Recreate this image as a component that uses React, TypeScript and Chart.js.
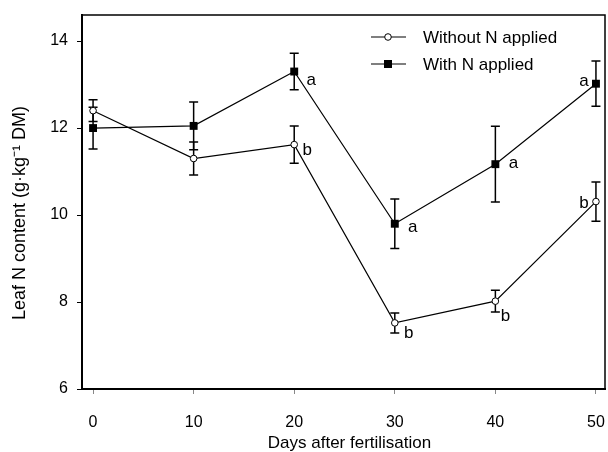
import React, { useEffect, useRef } from "react";
import { Chart, registerables } from "chart.js";

Chart.register(...registerables);

const days = [0, 10, 20, 30, 40, 50];
const withoutN = [12.4, 11.3, 11.62, 7.52, 8.02, 10.31];
const withoutNErr = [0.25, 0.38, 0.43, 0.23, 0.25, 0.45];
const withN = [12.0, 12.05, 13.3, 9.8, 11.17, 13.02];
const withNErr = [0.48, 0.55, 0.42, 0.57, 0.87, 0.52];
const withoutNLetters = ["", "", "b", "b", "b", "b"];
const withNLetters = ["", "", "a", "a", "a", "a"];
const xTicks = [0, 10, 20, 30, 40, 50];
const yTicks = [6, 8, 10, 12, 14];
const seriesNames = ["Without N applied", "With N applied"];
const xTitle = "Days after fertilisation";
const yTitle = "Leaf N content (g·kg⁻¹ DM)";

const FONT = "'Liberation Sans', Arial, sans-serif";

const frame = {
  id: "frame",
  afterDatasetsDraw(chart: any) {
    const { ctx, chartArea: a } = chart;
    ctx.save();
    ctx.strokeStyle = "#000";
    ctx.lineWidth = 1.5;
    ctx.strokeRect(a.left, a.top, a.right - a.left, a.bottom - a.top);
    ctx.restore();
  },
};

const titles = {
  id: "titles",
  afterDraw(chart: any) {
    const { ctx, chartArea: a } = chart;
    ctx.save();
    ctx.fillStyle = "#000";
    ctx.textAlign = "center";
    ctx.textBaseline = "middle";
    ctx.font = `17px ${FONT}`;
    ctx.fillText(xTitle, (a.left + a.right) / 2 + 6, 443);
    ctx.translate(20, (a.top + a.bottom) / 2 + 11);
    ctx.rotate(-Math.PI / 2);
    ctx.font = `18px ${FONT}`;
    ctx.fillText(yTitle, 0, 0);
    ctx.restore();
  },
};

const errorBars = {
  id: "errorBars",
  beforeDatasetsDraw(chart: any) {
    const { ctx } = chart;
    const xs = chart.scales.x;
    const ys = chart.scales.y;
    const sets = [
      { v: withoutN, e: withoutNErr },
      { v: withN, e: withNErr },
    ];
    ctx.save();
    ctx.strokeStyle = "#000";
    ctx.lineWidth = 1.5;
    sets.forEach((s) => {
      days.forEach((d, i) => {
        const x = xs.getPixelForValue(d);
        const y1 = ys.getPixelForValue(s.v[i] + s.e[i]);
        const y2 = ys.getPixelForValue(s.v[i] - s.e[i]);
        ctx.beginPath();
        ctx.moveTo(x, y1);
        ctx.lineTo(x, y2);
        ctx.moveTo(x - 4.5, y1);
        ctx.lineTo(x + 4.5, y1);
        ctx.moveTo(x - 4.5, y2);
        ctx.lineTo(x + 4.5, y2);
        ctx.stroke();
      });
    });
    ctx.restore();
  },
};

const withoutOffsets = [[0, 0], [0, 0], [13, 4], [14, 9], [10, 14], [-12, 0]];
const withOffsets = [[0, 0], [0, 0], [17, 9], [18, 4], [18, -1], [-12, -2]];

const letters = {
  id: "letters",
  afterDatasetsDraw(chart: any) {
    const { ctx } = chart;
    const xs = chart.scales.x;
    const ys = chart.scales.y;
    ctx.save();
    ctx.fillStyle = "#000";
    ctx.font = `17px ${FONT}`;
    ctx.textAlign = "center";
    ctx.textBaseline = "alphabetic";
    const draw = (vals: number[], labs: string[], offs: number[][]) => {
      days.forEach((d, i) => {
        const t = labs[i];
        if (!t) return;
        const x = xs.getPixelForValue(d) + offs[i][0];
        const yc = ys.getPixelForValue(vals[i]) + offs[i][1];
        const base = t === "a" ? yc + 4.5 : yc + 6;
        ctx.fillText(t, x, base);
      });
    };
    draw(withoutN, withoutNLetters, withoutOffsets);
    draw(withN, withNLetters, withOffsets);
    ctx.restore();
  },
};

const legendBox = {
  id: "legendBox",
  afterDraw(chart: any) {
    const { ctx } = chart;
    ctx.save();
    const rows = [37, 64];
    rows.forEach((y, i) => {
      ctx.strokeStyle = "#000";
      ctx.lineWidth = 1.2;
      ctx.beginPath();
      ctx.moveTo(371, y);
      ctx.lineTo(406, y);
      ctx.stroke();
      if (i === 0) {
        ctx.beginPath();
        ctx.arc(388, y, 3.3, 0, Math.PI * 2);
        ctx.fillStyle = "#fff";
        ctx.fill();
        ctx.lineWidth = 1;
        ctx.stroke();
      } else {
        ctx.fillStyle = "#000";
        ctx.fillRect(384, y - 4, 8, 8);
      }
      ctx.fillStyle = "#000";
      ctx.font = `17px ${FONT}`;
      ctx.textAlign = "left";
      ctx.textBaseline = "alphabetic";
      ctx.fillText(seriesNames[i], 423, y + 6);
    });
    ctx.restore();
  },
};

export default function App() {
  const ref = useRef<HTMLCanvasElement | null>(null);
  useEffect(() => {
    document.body.style.margin = "0";
    const canvas = ref.current;
    if (!canvas) return;
    const chart = new Chart(canvas, {
      type: "line",
      data: {
        datasets: [
          {
            label: seriesNames[0],
            data: days.map((d, i) => ({ x: d, y: withoutN[i] })),
            borderColor: "#000",
            borderWidth: 1.2,
            pointStyle: "circle",
            pointRadius: 3.3,
            pointBackgroundColor: "#fff",
            pointBorderColor: "#000",
            pointBorderWidth: 1,
            tension: 0,
          },
          {
            label: seriesNames[1],
            data: days.map((d, i) => ({ x: d, y: withN[i] })),
            borderColor: "#000",
            borderWidth: 1.2,
            pointStyle: "rect",
            pointRadius: 5.6,
            pointBackgroundColor: "#000",
            pointBorderColor: "#000",
            pointBorderWidth: 0,
            tension: 0,
          },
        ],
      },
      options: {
        animation: false,
        responsive: false,
        layout: {
          autoPadding: false,
          padding: { top: 15, right: 3, left: 0, bottom: 0 },
        },
        plugins: {
          legend: { display: false },
          tooltip: { enabled: false },
        },
        scales: {
          x: {
            type: "linear",
            min: -1.1,
            max: 50.9,
            afterBuildTicks: (s: any) => {
              s.ticks = xTicks.map((v) => ({ value: v }));
            },
            afterFit: (s: any) => {
              s.height = 63;
              s.paddingLeft = 0;
              s.paddingRight = 0;
            },
            grid: {
              drawOnChartArea: false,
              drawTicks: true,
              tickLength: 5,
              color: "#888",
            },
            border: { display: true, color: "#000", width: 2 },
            ticks: {
              color: "#000",
              padding: 19,
              font: { family: FONT, size: 16 },
            },
            title: { display: false },
          },
          y: {
            type: "linear",
            min: 6,
            max: 14.6,
            afterBuildTicks: (s: any) => {
              s.ticks = yTicks.map((v) => ({ value: v }));
            },
            afterFit: (s: any) => {
              s.width = 82;
              s.paddingTop = 0;
              s.paddingBottom = 0;
            },
            grid: {
              drawOnChartArea: false,
              drawTicks: true,
              tickLength: 5,
              color: "#000",
            },
            border: { display: true, color: "#000", width: 2 },
            ticks: {
              color: "#000",
              padding: 9,
              font: { family: FONT, size: 16 },
            },
            title: { display: false },
          },
        },
      },
      plugins: [frame, errorBars, letters, legendBox, titles],
    });
    return () => chart.destroy();
  }, []);
  return (
    <div style={{ width: 608, height: 452, background: "#fff" }}>
      <canvas ref={ref} width={608} height={452} />
    </div>
  );
}
